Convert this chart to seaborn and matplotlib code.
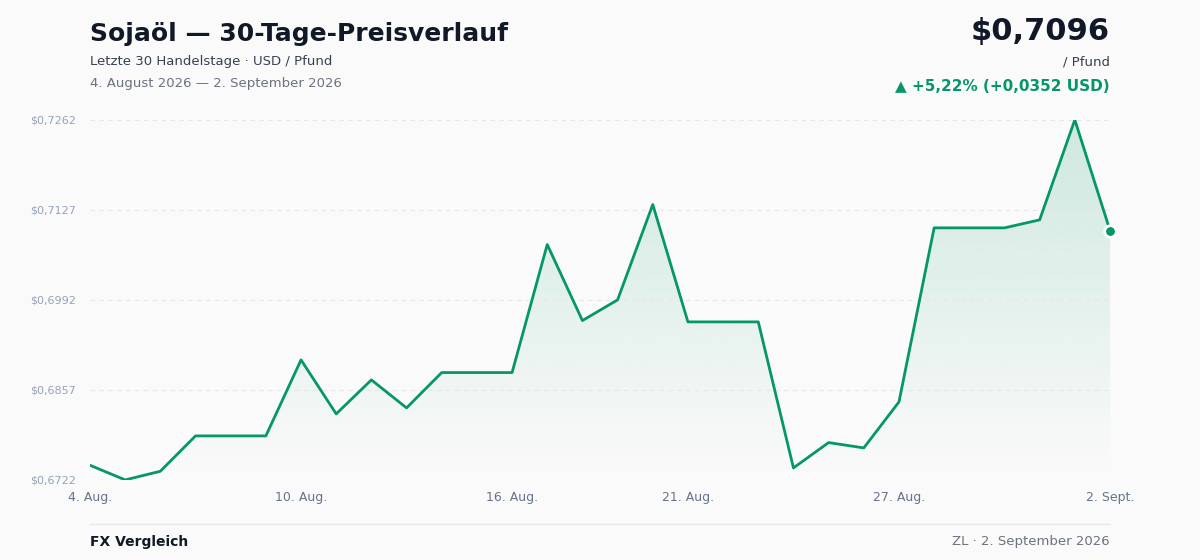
import matplotlib
matplotlib.use("Agg")
import matplotlib.pyplot as plt
import seaborn as sns
import numpy as np
import pandas as pd

prices = [0.6744, 0.6722, 0.6735, 0.6788, 0.6788, 0.6788, 0.6902, 0.6821, 0.6872, 0.6830,
          0.6883, 0.6883, 0.6883, 0.7075, 0.6961, 0.6992, 0.7135, 0.6959, 0.6959, 0.6959,
          0.6740, 0.6778, 0.6770, 0.6839, 0.7100, 0.7100, 0.7100, 0.7112, 0.7262, 0.7096]
tick_idx = [0, 6, 12, 17, 23, 29]
tick_labels = ["4. Aug.", "10. Aug.", "16. Aug.", "21. Aug.", "27. Aug.", "2. Sept."]
y_ticks = [0.6722, 0.6857, 0.6992, 0.7127, 0.7262]

sns.set_theme(style="white")
plt.rcParams['font.family'] = ['DejaVu Sans']
green = "#059669"
bg = "#fafafa"

fig = plt.figure(figsize=(12, 5.6), dpi=100, facecolor=bg)
ax = fig.add_axes([0.075, 0.143, 0.85, 0.643], facecolor=bg)
df = pd.DataFrame({"i": np.arange(len(prices)), "p": prices})
sns.lineplot(data=df, x="i", y="p", ax=ax, color=green, lw=2)
ymin, ymax = 0.6722, 0.7262
# gradient fill
grad = np.linspace(0.0, 0.18, 256).reshape(-1, 1)
from matplotlib.colors import LinearSegmentedColormap
cmap = LinearSegmentedColormap.from_list("g", [(0.02, 0.59, 0.41, 0.0), (0.02, 0.59, 0.41, 1.0)])
im = ax.imshow(grad, extent=[0, len(prices) - 1, ymin, ymax], origin="lower", aspect="auto",
               cmap=cmap, vmin=0, vmax=1, zorder=0)
poly = ax.fill_between(df.i, df.p, ymin - 1, color="none")
im.set_clip_path(poly.get_paths()[0], transform=ax.transData)
ax.scatter([len(prices) - 1], [prices[-1]], s=70, color=green, edgecolor="white", linewidth=2, zorder=5, clip_on=False)
ax.set_xlim(0, len(prices) - 1)
ax.set_ylim(ymin, ymax)
ax.set_yticks(y_ticks)
ax.set_yticklabels(["$" + f"{v:.4f}".replace(".", ",") for v in y_ticks], fontsize=8, color="#94a3b8")
ax.set_xticks(tick_idx)
ax.set_xticklabels(tick_labels, fontsize=9, color="#64748b")
ax.set_xlabel(""); ax.set_ylabel("")
for v in y_ticks:
    ax.axhline(v, color="#e5e7eb", lw=0.8, ls=(0, (4, 4)), zorder=0)
for s in ax.spines.values():
    s.set_visible(False)
ax.tick_params(length=0, pad=8)
ax.tick_params(axis="y", pad=10)

fig.text(0.075, 0.94, "Sojaöl — 30-Tage-Preisverlauf", fontsize=18, fontweight="bold", color="#111827", va="center")
fig.text(0.075, 0.89, "Letzte 30 Handelstage · USD / Pfund", fontsize=9.5, color="#374151", va="center")
fig.text(0.075, 0.851, "4. August 2026 — 2. September 2026", fontsize=9.5, color="#6b7280", va="center")
fig.text(0.925, 0.943, "$0,7096", fontsize=22, fontweight="bold", color="#111827", va="center", ha="right")
fig.text(0.925, 0.89, "/ Pfund", fontsize=9.5, color="#374151", va="center", ha="right")
fig.text(0.925, 0.845, "▲ +5,22% (+0,0352 USD)", fontsize=11, fontweight="bold", color=green, va="center", ha="right")
fig.add_artist(plt.Line2D([0.075, 0.925], [0.064, 0.064], color="#e5e7eb", lw=1))
fig.text(0.075, 0.033, "FX Vergleich", fontsize=10, fontweight="bold", color="#111827", va="center")
fig.text(0.925, 0.033, "ZL · 2. September 2026", fontsize=9.5, color="#6b7280", va="center", ha="right")
fig.savefig("out.png", dpi=100, facecolor=bg)
